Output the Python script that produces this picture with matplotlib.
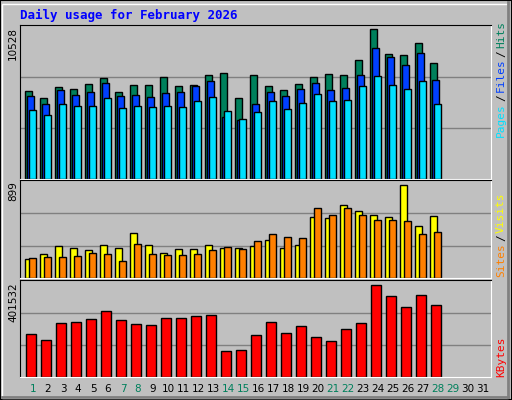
import matplotlib
matplotlib.use("Agg")
import matplotlib.pyplot as plt
from matplotlib.patches import Rectangle
import numpy as np

days = list(range(1, 32))
hits = [6193, 5669, 6479, 6312, 6670, 7098, 6122, 6598, 6598, 7170, 6527, 6598, 7313, 7456, 5669, 7313, 6527, 6241, 6670, 7170, 7384, 7313, 8385, 10528, 8813, 8742, 9600, 8170]
files = [5812, 5312, 6241, 5884, 6098, 6741, 5812, 5884, 5741, 6026, 6098, 6527, 6884, 4383, 4169, 5312, 6098, 5812, 6312, 6741, 6241, 6384, 7313, 9242, 8599, 8027, 8885, 6955]
pages = [4883, 4526, 5312, 5169, 5169, 5669, 5026, 5169, 5097, 5169, 5097, 5455, 5741, 4812, 4240, 4740, 5455, 4955, 5383, 5955, 5455, 5526, 6527, 7241, 6598, 6312, 6884, 5312]
visits = [186, 235, 313, 293, 274, 322, 293, 430, 322, 244, 283, 283, 322, 293, 293, 313, 371, 293, 322, 586, 576, 703, 645, 606, 586, 899, 498, 596]
sites = [195, 205, 205, 215, 244, 235, 166, 332, 235, 225, 225, 235, 274, 303, 283, 352, 420, 391, 381, 671, 612, 671, 612, 563, 563, 553, 420, 440]
kbytes = [186000, 160000, 234000, 238000, 252000, 287000, 247000, 230000, 225000, 256000, 256000, 265000, 269000, 111000, 116000, 182000, 238000, 191000, 221000, 173000, 155000, 208000, 234000, 401532, 353000, 305000, 357000, 314000]
weekend = [1, 7, 8, 14, 15, 21, 22, 28, 29]

BG = "#c0c0c0"
C_HITS, C_FILES, C_PAGES = "#00805c", "#0040ff", "#00e0ff"
C_VIS, C_SITES, C_KB = "#ffff00", "#ff8000", "#ff0000"

W, H = 512, 400
fig = plt.figure(figsize=(5.12, 4.0), dpi=100, facecolor=BG)

def fr(x0, y0, x1, y1):
    return [x0 / W, 1 - y1 / H, (x1 - x0) / W, (y1 - y0) / H]

fig.patches.append(Rectangle((0, 0), 1, 1, transform=fig.transFigure, fill=False, ec="black", lw=1.5))
fig.patches.append(Rectangle((2/W, 2/H), 1 - 6/W, 1 - 6/H, transform=fig.transFigure, fill=False, ec="white", lw=1))
fig.lines.append(plt.Line2D([2/W, 1 - 4/W], [3/H, 3/H], transform=fig.transFigure, color="#808080", lw=2))
fig.lines.append(plt.Line2D([1 - 4/W, 1 - 4/W], [3/H, 1 - 2/H], transform=fig.transFigure, color="#808080", lw=2))

fig.text(20/W, 1 - 15/H, "Daily usage for February 2026", color="#0000ff",
         family="DejaVu Sans Mono", weight="bold", fontsize=9, va="center", ha="left")

xl = (0.13, 31.53)
bw = 0.47

def panel(box, top):
    ax = fig.add_axes(fr(*box))
    ax.set_facecolor(BG)
    ax.set_xlim(*xl)
    ax.set_ylim(0, top)
    for y in (top * 0.33, top * 0.66):
        ax.axhline(y, color="#808080", lw=1, zorder=0)
    ax.set_xticks([]); ax.set_yticks([])
    ax.spines["top"].set_color("black"); ax.spines["left"].set_color("black")
    ax.spines["bottom"].set_color("white"); ax.spines["right"].set_color("white")
    return ax

d = np.arange(1, len(hits) + 1)
kw = dict(edgecolor="black", linewidth=1, zorder=2)

ax1 = panel((20, 25, 491, 179), 10528 * 455 / 442)
ax1.bar(d - 0.3, hits, bw, color=C_HITS, **kw)
ax1.bar(d - 0.17, files, bw, color=C_FILES, **kw)
ax1.bar(d - 0.03, pages, bw, color=C_PAGES, **kw)

ax2 = panel((20, 180, 491, 278), 899 * 290 / 276)
ax2.bar(d - 0.3, visits, bw, color=C_VIS, **kw)
ax2.bar(d - 0.03, sites, bw, color=C_SITES, **kw)

ax3 = panel((20, 280, 491, 377), 401532 * 288 / 274)
ax3.bar(d - 0.11, kbytes, 0.67, color=C_KB, **kw)

for y, t in [(27, "10528"), (181, "899"), (282, "401532")]:
    fig.text(13/W, 1 - y/H, t, rotation=90, ha="center", va="top", fontsize=7.5, family="DejaVu Sans")

def rlab(parts, ybottom):
    y = ybottom
    for t, c in parts:
        tx = fig.text(501/W, 1 - y/H, t, rotation=90, ha="center", va="bottom", color=c,
                      family="DejaVu Sans Mono", fontsize=8)
        fig.canvas.draw()
        bb = tx.get_window_extent()
        y -= bb.height + 2
rlab([("Pages", C_PAGES), ("/", "black"), ("Files", C_FILES), ("/", "black"), ("Hits", C_HITS)], 137)
rlab([("Sites", C_SITES), ("/", "black"), ("Visits", C_VIS)], 277)
rlab([("KBytes", C_KB)], 377)

for day in days:
    xpix = 20 + (day - xl[0]) / (xl[1] - xl[0]) * 471
    fig.text(xpix/W, 1 - 389/H, str(day), ha="center", va="center", fontsize=7.5,
             color=C_HITS if day in weekend else "black", family="DejaVu Sans")

fig.savefig("out.png", dpi=100, facecolor=BG)
